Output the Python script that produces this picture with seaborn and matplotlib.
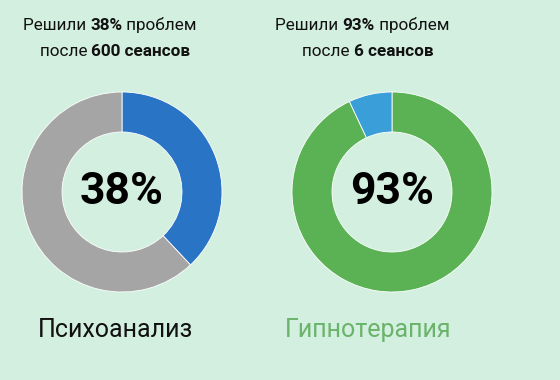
import matplotlib
matplotlib.use("Agg")
import matplotlib.pyplot as plt
import seaborn as sns

sns.set_theme(style="white")
plt.rcParams['font.family'] = ['Roboto', 'DejaVu Sans']

# ============================================================
# Данные
# ============================================================
methods = ["Психоанализ", "Гипнотерапия"]
solved_pct = [38, 93]
sessions = [600, 6]
solved_colors = ["#2a74c6", "#5bb254"]
rest_colors = ["#a5a5a5", "#3a9ed8"]
label_colors = ["#111111", "#6ab36a"]

BG = "#d3efe0"
W, H = 560, 380

fig = plt.figure(figsize=(W / 100, H / 100), dpi=100)
fig.patch.set_facecolor(BG)

centers_x = [122, 392]
center_y = 192
R = 100


def px(x, y):
    return x / W, 1 - y / H


def rich_line(parts, cx, cy, size):
    # parts: list of (text, weight); draw centered at (cx, cy) in pixels
    renderer = fig.canvas.get_renderer()
    objs = []
    for txt, wt in parts:
        t = fig.text(0, 0, txt, fontsize=size, fontweight=wt, color="#111111",
                     va="center", ha="left")
        objs.append(t)
    widths = [o.get_window_extent(renderer).width for o in objs]
    x = cx - sum(widths) / 2
    for o, w in zip(objs, widths):
        o.set_position(px(x, cy))
        x += w


text_cx = [[110, 115], [362, 368]]

for i in range(2):
    cx = centers_x[i]
    ax = fig.add_axes([(cx - R) / W, (H - center_y - R) / H, 2 * R / W, 2 * R / H])
    ax.set_facecolor(BG)
    vals = [solved_pct[i], 100 - solved_pct[i]]
    ax.pie(vals, colors=[solved_colors[i], rest_colors[i]], startangle=90,
           counterclock=False, radius=1,
           wedgeprops=dict(width=0.4, edgecolor="white", linewidth=0.6))
    ax.set_xlim(-1, 1)
    ax.set_ylim(-1, 1)
    ax.axis("off")
    ax.text(0, 0, f"{solved_pct[i]}%", ha="center", va="center",
            fontsize=32, fontweight="bold", color="black")

    rich_line([("Решили ", "normal"), (f"{solved_pct[i]}%", "bold"), (" проблем", "normal")],
              text_cx[i][0], 25, 12.3)
    rich_line([("после ", "normal"), (f"{sessions[i]} сеансов", "bold")],
              text_cx[i][1], 52, 12.3)

    fig.text(*px(text_cx[i][1], 330), methods[i], ha="center", va="center",
             fontsize=18, color=label_colors[i])

fig.savefig("out.png", dpi=100, facecolor=BG)
